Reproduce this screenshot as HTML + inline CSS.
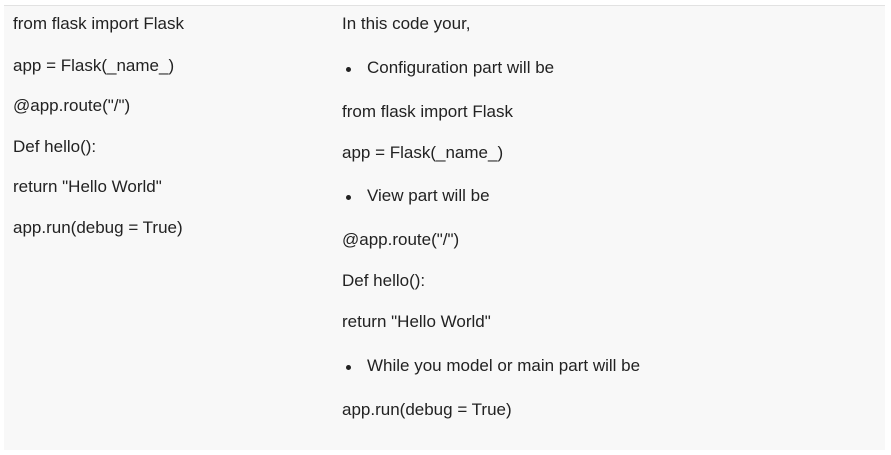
<!DOCTYPE html>
<html><head><style>
body{margin:0;width:891px;height:455px;background:#fff;position:relative;overflow:hidden;font-family:"Liberation Sans",sans-serif;font-size:17px;color:#222}
.bg{position:absolute;left:4px;top:5px;width:881px;height:444px;background:#f8f8f8;border-top:1px solid #e2e2e2}
.t{position:absolute;white-space:nowrap;line-height:20px}
.b{position:absolute;width:5px;height:5px;border-radius:50%;background:#222}
</style></head><body>
<div class="bg"></div>
<div class="t" style="left:13px;top:14px">from flask import Flask</div>
<div class="t" style="left:13px;top:56px">app = Flask(_name_)</div>
<div class="t" style="left:13px;top:96px">@app.route("/")</div>
<div class="t" style="left:13px;top:137px">Def hello():</div>
<div class="t" style="left:13px;top:177px">return "Hello World"</div>
<div class="t" style="left:13px;top:218px">app.run(debug = True)</div>

<div class="t" style="left:342px;top:14px">In this code your,</div>
<div class="b" style="left:346px;top:67px"></div>
<div class="t" style="left:367px;top:58px">Configuration part will be</div>
<div class="t" style="left:342px;top:102px">from flask import Flask</div>
<div class="t" style="left:342px;top:143px">app = Flask(_name_)</div>
<div class="b" style="left:346px;top:195px"></div>
<div class="t" style="left:367px;top:186px">View part will be</div>
<div class="t" style="left:342px;top:230px">@app.route("/")</div>
<div class="t" style="left:342px;top:271px">Def hello():</div>
<div class="t" style="left:342px;top:312px">return "Hello World"</div>
<div class="b" style="left:346px;top:365px"></div>
<div class="t" style="left:367px;top:356px">While you model or main part will be</div>
<div class="t" style="left:342px;top:400px">app.run(debug = True)</div>
</body></html>
